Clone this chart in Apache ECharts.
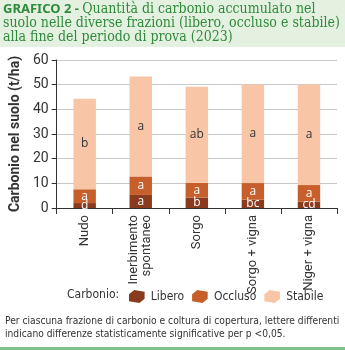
<!DOCTYPE html>
<html><head><meta charset="utf-8">
<script src="https://cdn.jsdelivr.net/npm/echarts@6/dist/echarts.min.js"></script>
<style>html,body{margin:0;padding:0;background:#fff;}#c{width:345px;height:350px;}</style>
</head><body><div id="c"></div>
<script>
const categories = ['Nudo', 'Inerbimento\nspontaneo', 'Sorgo', 'Sorgo + vigna', 'Niger + vigna'];
const libero = [2.0, 5.3, 4.2, 3.4, 2.6];
const occluso = [5.6, 7.5, 6.0, 6.7, 6.7];
const stabile = [36.7, 40.5, 39.0, 40.0, 40.8];
const liberoLetters = ['d', 'a', 'b', 'bc', 'cd'];
const occlusoLetters = ['a', 'a', 'a', 'a', 'a'];
const stabileLetters = ['b', 'a', 'ab', 'a', 'a'];
const yTicks = [0, 10, 20, 30, 40, 50, 60];

const FONT = '"Roboto", sans-serif';
const NARROW = '"DejaVu Sans Condensed", "Roboto", sans-serif';
const brick = 'path://M2,6 L8,1 L20,3 L20,11 L14,16 L2,14 Z';
const chart = echarts.init(document.getElementById('c'), null, {renderer: 'canvas'});

function seg(name, data, letters, color, textColor) {
  return {
    name: name, type: 'bar', stack: 'tot', barWidth: '40%',
    data: data,
    itemStyle: {color: color},
    label: {
      show: true, position: 'inside', color: textColor, fontFamily: '"Open Sans", sans-serif', fontSize: 12,
      formatter: p => letters[p.dataIndex]
    }
  };
}

chart.setOption({
  animation: false,
  graphic: [
    {type: 'rect', shape: {x: 0, y: 0, width: 345, height: 47}, style: {fill: '#e4f1e1'}},
    {type: 'text', left: 3, top: 2, style: {
      text: '{b|GRAFICO 2 - }Quantità di carbonio accumulato nel\nsuolo nelle diverse frazioni (libero, occluso e stabile)\nalla fine del periodo di prova (2023)',
      font: '14px "DejaVu Serif Condensed", "DejaVu Serif", serif', fill: '#2f8a3c', lineHeight: 14,
      rich: {b: {font: 'bold 13px "Noto Sans", sans-serif', fill: '#2f8a3c'}}
    }},
    {type: 'text', left: 5, top: 315, style: {
      text: 'Per ciascuna frazione di carbonio e coltura di copertura, lettere differenti\nindicano differenze statisticamente significative per p <0,05.',
      font: '10.2px ' + NARROW, fill: '#333', lineHeight: 13
    }},
    {type: 'text', left: 67, top: 289, style: {text: 'Carbonio:', font: '12px ' + NARROW, fill: '#333'}},
    {type: 'rect', shape: {x: 0, y: 347, width: 345, height: 3}, style: {fill: '#7fbf8a'}}
  ],
  legend: {
    left: 124, top: 285, width: 230, itemWidth: 18, itemHeight: 13, itemGap: 8,
    icon: brick,
    textStyle: {fontFamily: NARROW, fontSize: 12, color: '#333'},
    data: ['Libero', 'Occluso', 'Stabile']
  },
  grid: {left: 52, right: 8, top: 60, bottom: 142, containLabel: false},
  xAxis: {
    type: 'category', data: categories,
    axisLine: {lineStyle: {color: '#333'}},
    axisTick: {show: true, length: 6, lineStyle: {color: '#333'}},
    axisLabel: {rotate: 90, fontFamily: FONT, fontSize: 13, color: '#333', interval: 0, margin: 7, lineHeight: 13}
  },
  yAxis: {
    type: 'value', min: 0, max: 60, interval: 10,
    name: 'Carbonio nel suolo (t/ha)', nameLocation: 'middle', nameGap: 30,
    nameTextStyle: {fontFamily: FONT, fontSize: 14, fontWeight: 'bold', color: '#333'},
    axisLine: {show: true, lineStyle: {color: '#333'}},
    axisTick: {show: true, length: 5, lineStyle: {color: '#333'}},
    axisLabel: {fontFamily: FONT, fontSize: 14, color: '#333', margin: 8},
    splitLine: {lineStyle: {color: '#c8c8c8'}}
  },
  series: [
    seg('Libero', libero, liberoLetters, '#8a3a1d', '#fff'),
    seg('Occluso', occluso, occlusoLetters, '#c75f2c', '#fff'),
    seg('Stabile', stabile, stabileLetters, '#f8c5a7', '#333')
  ]
});
</script></body></html>
